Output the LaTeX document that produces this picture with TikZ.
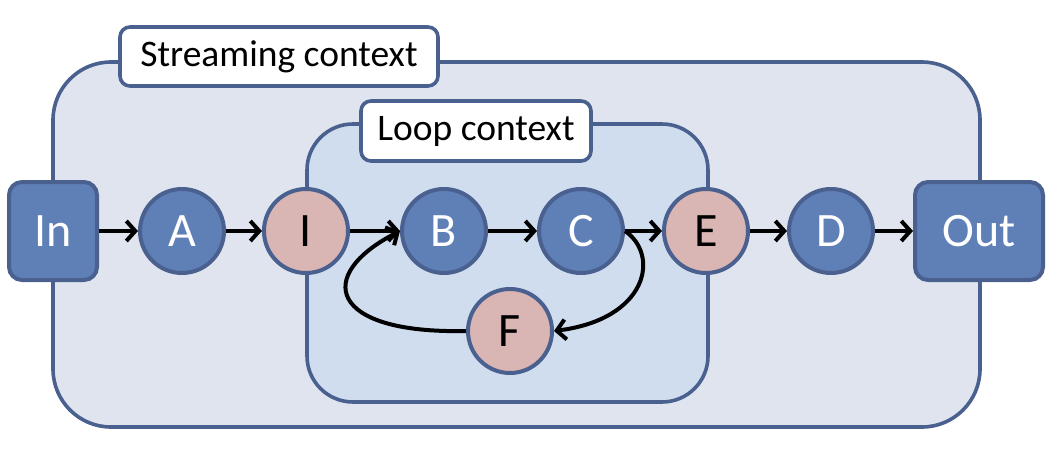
\documentclass[tikz,border=0pt]{standalone}
\usepackage{fontspec}
\setmainfont{Carlito}
\usetikzlibrary{arrows.meta}
\definecolor{edgeblue}{HTML}{4A6190}
\definecolor{outerfill}{HTML}{DFE4EF}
\definecolor{loopfill}{HTML}{CFDDEF}
\definecolor{nodeblue}{HTML}{5F7FB7}
\definecolor{nodepink}{HTML}{D9B5B3}
\tikzset{
  ctxbox/.style={draw=edgeblue, line width=3.6pt},
  ctxlabel/.style={draw=edgeblue, fill=white, line width=3.6pt, rounded corners=10pt,
    inner sep=0pt, font=\fontsize{37.5}{40}\selectfont, text=black},
  opnode/.style={circle, draw=edgeblue, line width=4pt, minimum size=84pt, inner sep=0pt,
    font=\fontsize{48}{50}\selectfont},
  bluenode/.style={opnode, fill=nodeblue, text=white},
  pinknode/.style={opnode, fill=nodepink, text=black},
  iobox/.style={draw=edgeblue, fill=nodeblue, line width=4pt, rounded corners=13pt,
    inner sep=0pt, minimum height=98pt, text=white, font=\fontsize{48}{50}\selectfont},
  flow/.style={line width=4pt, draw=black, -{Straight Barb[length=9pt,width=20pt]}}
}
\begin{document}
\begin{tikzpicture}[x=1pt,y=-1pt]
\useasboundingbox (0,0) rectangle (1050,450);
% contexts
\draw[ctxbox, fill=outerfill, rounded corners=58pt] (53,62) rectangle (980,427);
\draw[ctxbox, fill=loopfill, rounded corners=46pt] (307,124) rectangle (708,402);
\node[ctxlabel, minimum width=318pt, minimum height=59pt] (slab) at (279,56.5) {Streaming context};
\node[ctxlabel, minimum width=230pt, minimum height=60pt] (llab) at (476,131) {Loop context};
% nodes
\node[iobox, minimum width=88pt] (in) at (53,231) {In};
\node[iobox, minimum width=128pt] (out) at (979,231) {Out};
\node[bluenode] (a) at (182,231) {A};
\node[pinknode] (i) at (306,231) {I};
\node[bluenode] (b) at (444,231) {B};
\node[bluenode] (c) at (581,231) {C};
\node[pinknode] (e) at (706,231) {E};
\node[bluenode] (d) at (831,231) {D};
\node[pinknode] (f) at (510,331) {F};
% connectors
\draw[flow] (in) -- (a);
\draw[flow] (a) -- (i);
\draw[flow] (i) -- (b);
\draw[flow] (b) -- (c);
\draw[flow] (c) -- (e);
\draw[flow] (e) -- (d);
\draw[flow] (d) -- (out);
\draw[flow] (f.west) .. controls +(-138,3) and +(-86,44) .. (b.west);
\draw[flow] (c.east) .. controls +(35,24) and +(94,-12) .. (f.east);
\end{tikzpicture}
\end{document}
